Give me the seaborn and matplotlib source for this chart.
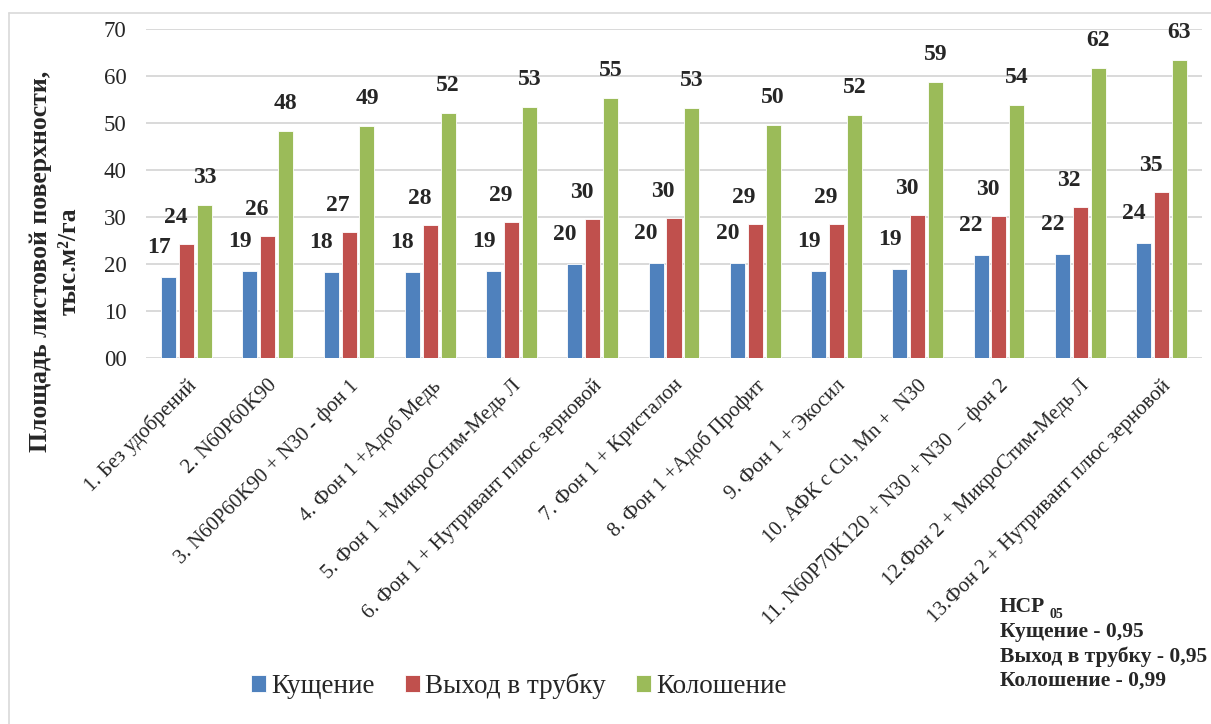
import matplotlib
matplotlib.use("Agg")
import matplotlib.pyplot as plt
import seaborn as sns
import pandas as pd
from matplotlib.lines import Line2D
from matplotlib.ticker import FuncFormatter

categories = [
    "1. Без удобрений",
    "2. N60P60K90",
    "3. N60P60K90 + N30 - фон 1",
    "4. Фон 1 +Адоб Медь",
    "5. Фон 1 +МикроСтим-Медь Л",
    "6. Фон 1 + Нутривант плюс зерновой",
    "7. Фон 1 + Кристалон",
    "8. Фон 1 +Адоб Профит",
    "9. Фон 1 + Экосил",
    "10. АФК с Cu, Mn +  N30",
    "11. N60P70K120 + N30 + N30  – фон 2",
    "12.Фон 2 + МикроСтим-Медь Л",
    "13.Фон 2 + Нутривант плюс зерновой",
]
series_names = ["Кущение", "Выход в трубку", "Колошение"]
kushchenie = [17.3, 18.6, 18.3, 18.4, 18.6, 20.1, 20.2, 20.2, 18.6, 19.0, 21.9, 22.1, 24.4]
vykhod = [24.3, 26.0, 26.8, 28.4, 29.0, 29.6, 29.8, 28.6, 28.6, 30.4, 30.3, 32.1, 35.3]
koloshenie = [32.6, 48.2, 49.4, 52.2, 53.3, 55.3, 53.2, 49.6, 51.7, 58.8, 53.9, 61.7, 63.3]
colors = ["#4F81BD", "#C0504D", "#9BBB59"]
y_ticks = [0, 10, 20, 30, 40, 50, 60, 70]
ylabel = "Площадь листовой поверхности,\nтыс.м²/га"
hsr_lines = ["Кущение - 0,95", "Выход в трубку - 0,95", "Колошение - 0,99"]

rows = []
for name, vals in zip(series_names, [kushchenie, vykhod, koloshenie]):
    for c, v in zip(categories, vals):
        rows.append({"cat": c, "series": name, "value": v})
df = pd.DataFrame(rows)

sns.set_style("white")
plt.rcParams["font.family"] = ["Liberation Serif", "DejaVu Serif"]

fig = plt.figure(figsize=(12.11, 7.24), dpi=100)
ax = fig.add_axes([146 / 1211, 1 - 358 / 724, (1202 - 146) / 1211, (358 - 29) / 724])

sns.barplot(data=df, x="cat", y="value", hue="series", order=categories,
            hue_order=series_names, palette=colors, width=0.66, gap=0.16,
            edgecolor="white", linewidth=0.6, saturation=1, ax=ax, legend=True)

ax.set_ylim(0, 70)
ax.set_yticks(y_ticks)
ax.yaxis.set_major_formatter(FuncFormatter(lambda v, p: f"{int(v):02d}"))
ax.grid(axis="y", color="#D9D9D9", linewidth=1.4)
ax.set_axisbelow(True)
for s in ax.spines.values():
    s.set_visible(False)
ax.tick_params(axis="y", length=0, labelsize=16.5, pad=14)
ax.tick_params(axis="x", length=0, labelsize=15, pad=13)
ax.set_xlabel("")
ax.set_ylabel("")
ax.set_xlim(-0.5, len(categories) - 0.5)
for lbl in ax.get_xticklabels():
    lbl.set_rotation(45)
    lbl.set_ha("right")
    lbl.set_va("top")
    lbl.set_rotation_mode("anchor")

offsets = [(-10, 19), (-11, 16), (0, 17)]
for cont, (dx, dy) in zip(ax.containers, offsets):
    for bar in cont:
        h = bar.get_height()
        ax.annotate(f"{h:.0f}", (bar.get_x() + bar.get_width() / 2, h),
                    xytext=(dx, dy), textcoords="offset pixels",
                    ha="center", va="bottom", fontsize=17, fontweight="bold")

handles, labels = ax.get_legend_handles_labels()
ax.get_legend().remove()
fig.legend(handles, labels, loc="center", bbox_to_anchor=(519 / 1211, 1 - 686 / 724),
           ncol=3, frameon=False, fontsize=19.5, handlelength=0.55, handleheight=0.55,
           handletextpad=0.2, columnspacing=1.1)

fig.text(55 / 1211, 1 - 261 / 724, ylabel, rotation=90, ha="center", va="center",
         multialignment="center", fontsize=18.5, fontweight="bold", linespacing=1.3)

fig.text(1000 / 1211, 1 - 607 / 724, "НСР", ha="left", va="center", fontsize=15.5, fontweight="bold")
fig.text(1050 / 1211, 1 - 615 / 724, "05", ha="left", va="center", fontsize=10, fontweight="bold")
for i, t in enumerate(hsr_lines):
    fig.text(1000 / 1211, 1 - (632 + 24.5 * i) / 724, t, ha="left", va="center",
             fontsize=15.5, fontweight="bold")

fig.add_artist(Line2D([9 / 1211, 9 / 1211], [0, 1 - 13 / 724], transform=fig.transFigure,
                      color="#D9D9D9", linewidth=1.2))
fig.add_artist(Line2D([9 / 1211, 1], [1 - 13 / 724, 1 - 13 / 724], transform=fig.transFigure,
                      color="#D9D9D9", linewidth=1.2))

fig.savefig("out.png", dpi=100)
